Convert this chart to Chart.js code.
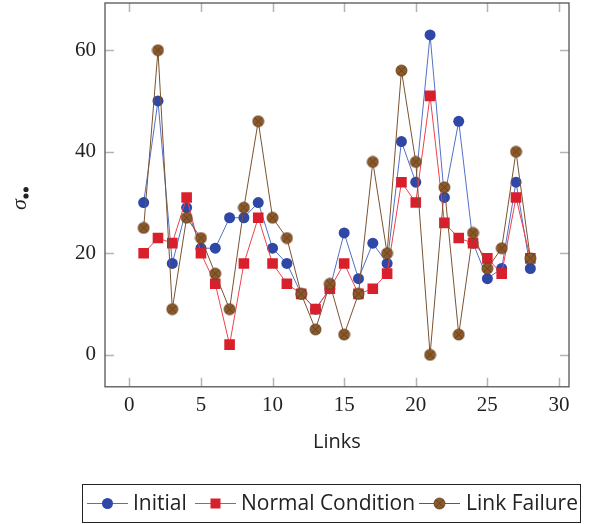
<!DOCTYPE html>
<html lang="en">
<head>
    <meta charset="UTF-8">
    <title>Links sigma chart</title>
    <script src="https://cdn.jsdelivr.net/npm/chart.js"></script>
    <style>
        html, body { margin: 0; padding: 0; background: #ffffff; }
        #wrap { width: 600px; height: 524px; }
    </style>
</head>
<body>
    <div id="wrap"><canvas id="sigmaChart" width="600" height="524"></canvas></div>

    <script>
        // data
        const links = [1, 2, 3, 4, 5, 6, 7, 8, 9, 10, 11, 12, 13, 14, 15, 16, 17, 18, 19, 20, 21, 22, 23, 24, 25, 26, 27, 28];
        const initial = [30, 50, 18, 29, 21, 21, 27, 27, 30, 21, 18, 12, 9, 13, 24, 15, 22, 18, 42, 34, 63, 31, 46, 22, 15, 17, 34, 17];
        const normalCondition = [20, 23, 22, 31, 20, 14, 2, 18, 27, 18, 14, 12, 9, 13, 18, 12, 13, 16, 34, 30, 51, 26, 23, 22, 19, 16, 31, 19];
        const linkFailure = [25, 60, 9, 27, 23, 16, 9, 29, 46, 27, 23, 12, 5, 14, 4, 12, 38, 20, 56, 38, 0, 33, 4, 24, 17, 21, 40, 19];
        const seriesNames = ['Initial', 'Normal Condition', 'Link Failure'];

        const xMin = -1.7, xMax = 30.7, xStep = 5;
        const yMin = -6.3, yMax = 69.3, yStep = 20;

        const BLUE = '#2f47a6', BLUE_LINE = '#5470c6';
        const RED = '#d91f2b', RED_LINE = '#f0404a';
        const BROWN = '#8c5a2b', BROWN_DARK = '#5f3b18', BROWN_LINE = '#7a5331';
        const SERIF = '"Liberation Serif", "DejaVu Serif", serif';

        // circle with an x inside, like pgfplots "otimes*"
        function makeOtimes(r) {
            const c = document.createElement('canvas');
            const s = Math.ceil(r * 2 + 2);
            c.width = s; c.height = s;
            const g = c.getContext('2d');
            const m = s / 2;
            g.beginPath();
            g.arc(m, m, r, 0, Math.PI * 2);
            g.fillStyle = BROWN;
            g.fill();
            g.lineWidth = 0.8;
            g.strokeStyle = BROWN_DARK;
            g.stroke();
            const d = r * 0.7;
            g.beginPath();
            g.moveTo(m - d, m - d); g.lineTo(m + d, m + d);
            g.moveTo(m + d, m - d); g.lineTo(m - d, m + d);
            g.stroke();
            return c;
        }
        const otimes = makeOtimes(5.5);

        function toPoints(vals) {
            return links.map((x, i) => ({ x: x, y: vals[i] }));
        }

        // frame + inward ticks on all four sides, y title and boxed legend
        const decorations = {
            id: 'decorations',
            afterDraw(chart) {
                const ctx = chart.ctx;
                const a = chart.chartArea;
                const xs = chart.scales.x, ys = chart.scales.y;
                ctx.save();

                ctx.strokeStyle = '#b4b4b4';
                ctx.lineWidth = 1.5;
                ctx.beginPath();
                xs.ticks.forEach(t => {
                    const px = Math.round(xs.getPixelForValue(t.value)) + 0.5;
                    ctx.moveTo(px, a.bottom); ctx.lineTo(px, a.bottom - 9);
                    ctx.moveTo(px, a.top); ctx.lineTo(px, a.top + 9);
                });
                ys.ticks.forEach(t => {
                    const py = Math.round(ys.getPixelForValue(t.value)) + 0.5;
                    ctx.moveTo(a.left, py); ctx.lineTo(a.left + 9, py);
                    ctx.moveTo(a.right, py); ctx.lineTo(a.right - 9, py);
                });
                ctx.stroke();

                ctx.strokeStyle = '#555555';
                ctx.lineWidth = 1.3;
                ctx.strokeRect(a.left, a.top, a.right - a.left, a.bottom - a.top);

                // y title: sigma with two subscript dots, rotated
                ctx.translate(22, 200);
                ctx.rotate(-Math.PI / 2);
                ctx.fillStyle = '#222222';
                ctx.textBaseline = 'alphabetic';
                ctx.textAlign = 'left';
                ctx.font = 'italic 22px ' + SERIF;
                ctx.fillText('σ', -10, 4);
                ctx.beginPath();
                ctx.arc(4, 4, 2.6, 0, Math.PI * 2);
                ctx.arc(10.5, 4, 2.6, 0, Math.PI * 2);
                ctx.fill();
                ctx.setTransform(1, 0, 0, 1, 0, 0);

                // legend box
                const lx = 82, ly = 484, lw = 498, lh = 38;
                ctx.strokeStyle = '#222222';
                ctx.lineWidth = 1;
                ctx.strokeRect(lx + 0.5, ly + 0.5, lw, lh);
                const cy = ly + lh / 2 + 0.5;
                const entries = [
                    { x: 87, tx: 133, line: BLUE_LINE, mark: 'circle' },
                    { x: 195, tx: 241, line: RED_LINE, mark: 'square' },
                    { x: 419, tx: 466, line: BROWN_LINE, mark: 'otimes' }
                ];
                entries.forEach((e, i) => {
                    ctx.strokeStyle = e.line;
                    ctx.lineWidth = 1;
                    ctx.beginPath();
                    ctx.moveTo(e.x, cy); ctx.lineTo(e.x + 41, cy);
                    ctx.stroke();
                    const mx = e.x + 20.5;
                    if (e.mark === 'circle') {
                        ctx.fillStyle = BLUE;
                        ctx.beginPath(); ctx.arc(mx, cy, 5.5, 0, Math.PI * 2); ctx.fill();
                    } else if (e.mark === 'square') {
                        ctx.fillStyle = RED;
                        ctx.fillRect(mx - 5, cy - 5, 10, 10);
                    } else {
                        ctx.drawImage(otimes, mx - otimes.width / 2, cy - otimes.height / 2);
                    }
                    ctx.fillStyle = '#222222';
                    ctx.font = '21px "Open Sans"';
                    ctx.textBaseline = 'middle';
                    ctx.fillText(seriesNames[i], e.tx, cy + 1);
                });
                ctx.restore();
            }
        };

        const ctx = document.getElementById('sigmaChart').getContext('2d');
        new Chart(ctx, {
            type: 'line',
            data: {
                datasets: [
                    {
                        label: seriesNames[0],
                        data: toPoints(initial),
                        borderColor: BLUE_LINE,
                        borderWidth: 1,
                        pointStyle: 'circle',
                        pointRadius: 5.5,
                        pointBackgroundColor: BLUE,
                        pointBorderColor: BLUE,
                        pointBorderWidth: 0,
                        order: 3
                    },
                    {
                        label: seriesNames[1],
                        data: toPoints(normalCondition),
                        borderColor: RED_LINE,
                        borderWidth: 1,
                        pointStyle: 'rect',
                        pointRadius: 7.5,
                        pointBackgroundColor: RED,
                        pointBorderColor: RED,
                        pointBorderWidth: 0,
                        order: 2
                    },
                    {
                        label: seriesNames[2],
                        data: toPoints(linkFailure),
                        borderColor: BROWN_LINE,
                        borderWidth: 1,
                        pointStyle: otimes,
                        pointRadius: 5.5,
                        order: 1
                    }
                ]
            },
            options: {
                responsive: false,
                animation: false,
                layout: { autoPadding: false, padding: { left: 66, right: 31, top: 3, bottom: 70 } },
                plugins: {
                    legend: { display: false },
                    tooltip: { enabled: false }
                },
                scales: {
                    x: {
                        type: 'linear',
                        min: xMin,
                        max: xMax,
                        grid: { display: false, drawTicks: false },
                        border: { display: false },
                        ticks: {
                            stepSize: xStep,
                            includeBounds: false,
                            color: '#222222',
                            padding: 6,
                            font: { family: SERIF, size: 21 }
                        },
                        title: {
                            display: true,
                            text: 'Links',
                            color: '#222222',
                            padding: { top: 6, bottom: 0 },
                            font: { family: '"Open Sans"', size: 20 }
                        }
                    },
                    y: {
                        type: 'linear',
                        min: yMin,
                        max: yMax,
                        grid: { display: false, drawTicks: false },
                        border: { display: false },
                        afterFit(scale) {
                            scale.paddingTop = 0;
                            scale.paddingBottom = 0;
                        },
                        ticks: {
                            stepSize: yStep,
                            includeBounds: false,
                            color: '#222222',
                            padding: 9,
                            font: { family: SERIF, size: 21 }
                        }
                    }
                }
            },
            plugins: [decorations]
        });
    </script>
</body>
</html>
